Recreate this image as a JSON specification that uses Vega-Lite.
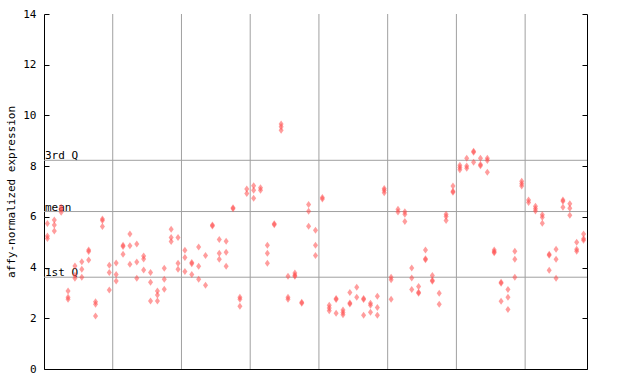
{
  "$schema": "https://vega.github.io/schema/vega-lite/v6.json",
  "width": 543,
  "height": 355,
  "autosize": "none",
  "padding": {"left": 44, "top": 14, "right": 53, "bottom": 15},
  "background": "white",
  "config": {"view": {"stroke": null}, "font": "DejaVu Sans Mono"},
  "datasets": {
    "groups": [{"b": 9.5}, {"b": 19.5}, {"b": 29.5}, {"b": 39.5}, {"b": 49.5}, {"b": 59.5}, {"b": 69.5}],
    "quart": [{"q": "3rd Q", "v": 8.23}, {"q": "mean", "v": 6.21}, {"q": "1st Q", "v": 3.62}],
    "pts": [
      {"i":0,"v":5.74},{"i":0,"v":5.25},{"i":0,"v":5.15},
      {"i":1,"v":5.88},{"i":1,"v":5.68},{"i":1,"v":5.44},
      {"i":2,"v":6.38},{"i":2,"v":6.30},{"i":2,"v":6.18},
      {"i":3,"v":3.08},{"i":3,"v":2.83},{"i":3,"v":2.75},
      {"i":4,"v":4.06},{"i":4,"v":3.70},{"i":4,"v":3.58},
      {"i":5,"v":4.23},{"i":5,"v":3.93},{"i":5,"v":3.62},
      {"i":6,"v":4.69},{"i":6,"v":4.63},{"i":6,"v":4.30},
      {"i":7,"v":2.65},{"i":7,"v":2.55},{"i":7,"v":2.09},
      {"i":8,"v":5.92},{"i":8,"v":5.86},{"i":8,"v":5.62},
      {"i":9,"v":4.09},{"i":9,"v":3.81},{"i":9,"v":3.12},
      {"i":10,"v":4.18},{"i":10,"v":3.73},{"i":10,"v":3.47},
      {"i":11,"v":4.88},{"i":11,"v":4.83},{"i":11,"v":4.53},
      {"i":12,"v":5.32},{"i":12,"v":4.86},{"i":12,"v":4.13},
      {"i":13,"v":4.93},{"i":13,"v":4.22},{"i":13,"v":3.58},
      {"i":14,"v":4.46},{"i":14,"v":4.34},{"i":14,"v":3.90},
      {"i":15,"v":3.81},{"i":15,"v":3.42},{"i":15,"v":2.68},
      {"i":16,"v":3.08},{"i":16,"v":2.92},{"i":16,"v":2.68},
      {"i":17,"v":3.97},{"i":17,"v":3.54},{"i":17,"v":3.15},
      {"i":18,"v":5.51},{"i":18,"v":5.19},{"i":18,"v":5.03},
      {"i":19,"v":5.19},{"i":19,"v":4.17},{"i":19,"v":3.93},
      {"i":20,"v":4.68},{"i":20,"v":4.40},{"i":20,"v":3.85},
      {"i":21,"v":4.20},{"i":21,"v":4.15},{"i":21,"v":3.73},
      {"i":22,"v":4.81},{"i":22,"v":4.05},{"i":22,"v":3.54},
      {"i":23,"v":4.48},{"i":23,"v":3.30},
      {"i":24,"v":5.68},{"i":24,"v":5.64},
      {"i":25,"v":5.11},{"i":25,"v":4.56},{"i":25,"v":4.33},
      {"i":26,"v":5.04},{"i":26,"v":4.60},{"i":26,"v":4.05},
      {"i":27,"v":6.36},{"i":27,"v":6.32},
      {"i":28,"v":2.83},{"i":28,"v":2.75},{"i":28,"v":2.47},
      {"i":29,"v":7.10},{"i":29,"v":6.92},
      {"i":30,"v":7.23},{"i":30,"v":7.05},{"i":30,"v":6.73},
      {"i":31,"v":7.15},{"i":31,"v":7.05},
      {"i":32,"v":4.88},{"i":32,"v":4.56},{"i":32,"v":4.17},
      {"i":33,"v":5.73},{"i":33,"v":5.69},
      {"i":34,"v":9.66},{"i":34,"v":9.55},{"i":34,"v":9.42},
      {"i":35,"v":3.66},{"i":35,"v":2.83},{"i":35,"v":2.75},
      {"i":36,"v":3.79},{"i":36,"v":3.70},{"i":36,"v":3.66},
      {"i":37,"v":2.63},{"i":37,"v":2.59},
      {"i":38,"v":6.49},{"i":38,"v":6.22},{"i":38,"v":5.63},
      {"i":39,"v":5.47},{"i":39,"v":4.88},{"i":39,"v":4.48},
      {"i":40,"v":6.76},{"i":40,"v":6.70},
      {"i":41,"v":2.51},{"i":41,"v":2.41},{"i":41,"v":2.30},
      {"i":42,"v":2.78},{"i":42,"v":2.74},{"i":42,"v":2.20},
      {"i":43,"v":2.33},{"i":43,"v":2.23},{"i":43,"v":2.14},
      {"i":44,"v":3.02},{"i":44,"v":2.60},{"i":44,"v":2.56},
      {"i":45,"v":3.22},{"i":45,"v":2.83},
      {"i":46,"v":2.78},{"i":46,"v":2.74},{"i":46,"v":2.12},
      {"i":47,"v":2.59},{"i":47,"v":2.51},{"i":47,"v":2.24},
      {"i":48,"v":2.87},{"i":48,"v":2.43},{"i":48,"v":2.12},
      {"i":49,"v":7.12},{"i":49,"v":7.05},{"i":49,"v":6.95},
      {"i":50,"v":3.62},{"i":50,"v":3.52},{"i":50,"v":2.75},
      {"i":51,"v":6.30},{"i":51,"v":6.19},
      {"i":52,"v":6.20},{"i":52,"v":6.10},{"i":52,"v":5.82},
      {"i":53,"v":3.98},{"i":53,"v":3.59},{"i":53,"v":3.14},
      {"i":54,"v":3.25},{"i":54,"v":3.03},{"i":54,"v":2.99},
      {"i":55,"v":4.69},{"i":55,"v":4.35},{"i":55,"v":4.31},
      {"i":56,"v":3.69},{"i":56,"v":3.50},{"i":56,"v":3.46},
      {"i":57,"v":2.99},{"i":57,"v":2.55},
      {"i":58,"v":6.10},{"i":58,"v":6.01},{"i":58,"v":5.86},
      {"i":59,"v":7.22},{"i":59,"v":7.01},{"i":59,"v":6.97},
      {"i":60,"v":8.04},{"i":60,"v":7.95},{"i":60,"v":7.86},
      {"i":61,"v":8.31},{"i":61,"v":8.01},{"i":61,"v":7.92},
      {"i":62,"v":8.59},{"i":62,"v":8.55},{"i":62,"v":8.15},
      {"i":63,"v":8.31},{"i":63,"v":8.06},{"i":63,"v":8.02},
      {"i":64,"v":8.31},{"i":64,"v":8.22},{"i":64,"v":7.76},
      {"i":65,"v":4.69},{"i":65,"v":4.62},{"i":65,"v":4.58},
      {"i":66,"v":3.42},{"i":66,"v":3.38},{"i":66,"v":2.67},
      {"i":67,"v":3.14},{"i":67,"v":2.83},{"i":67,"v":2.35},
      {"i":68,"v":4.64},{"i":68,"v":4.33},{"i":68,"v":3.62},
      {"i":69,"v":7.40},{"i":69,"v":7.31},{"i":69,"v":7.22},
      {"i":70,"v":6.66},{"i":70,"v":6.57},
      {"i":71,"v":6.42},{"i":71,"v":6.32},{"i":71,"v":6.23},
      {"i":72,"v":6.08},{"i":72,"v":5.98},{"i":72,"v":5.75},
      {"i":73,"v":4.53},{"i":73,"v":4.49},{"i":73,"v":3.89},
      {"i":74,"v":4.72},{"i":74,"v":4.33},{"i":74,"v":3.58},
      {"i":75,"v":6.66},{"i":75,"v":6.62},{"i":75,"v":6.38},
      {"i":76,"v":6.52},{"i":76,"v":6.34},{"i":76,"v":6.06},
      {"i":77,"v":5.00},{"i":77,"v":4.72},{"i":77,"v":4.64},
      {"i":78,"v":5.32},{"i":78,"v":5.14},{"i":78,"v":5.08}
    ]
  },
  "layer": [
    {
      "data": {"name": "groups"},
      "mark": {"type": "rule", "color": "#a0a0a0", "strokeWidth": 1},
      "encoding": {
        "x": {"field": "b", "type": "quantitative",
          "scale": {"domain": [-0.5, 78.5], "nice": false, "zero": false},
          "axis": {"title": null, "labels": false, "ticks": false, "grid": false, "domainColor": "#000000", "domainWidth": 1}}
      }
    },
    {
      "data": {"name": "quart"},
      "mark": {"type": "rule", "color": "#a0a0a0", "strokeWidth": 1},
      "encoding": {
        "y": {"field": "v", "type": "quantitative",
          "scale": {"domain": [0, 14], "nice": false, "zero": true},
          "axis": {"orient": "left", "title": "affy-normalized expression", "titleFont": "DejaVu Sans Mono", "titleFontSize": 11, "titleFontWeight": "normal", "titleColor": "#000000", "titlePadding": 6,
            "values": [0, 2, 4, 6, 8, 10, 12, 14], "tickSize": -5, "tickColor": "#000000", "domainColor": "#000000", "labelColor": "#000000", "labelFont": "DejaVu Sans Mono", "labelFontSize": 11, "labelPadding": 13, "grid": false}}
      }
    },
    {
      "data": {"name": "quart"},
      "mark": {"type": "text", "align": "left", "baseline": "alphabetic", "dx": 1, "dy": -1, "fontSize": 11, "font": "DejaVu Sans Mono", "color": "#000000"},
      "encoding": {
        "x": {"datum": -0.5, "type": "quantitative"},
        "y": {"field": "v", "type": "quantitative", "axis": null},
        "text": {"field": "q"}
      }
    },
    {
      "data": {"name": "pts"},
      "mark": {"type": "point", "shape": "M0,-1L0.72,0L0,1L-0.72,0Z", "filled": true, "size": 49, "color": "#ff4d4d", "opacity": 0.55, "strokeWidth": 0},
      "encoding": {
        "x": {"field": "i", "type": "quantitative"},
        "y": {"field": "v", "type": "quantitative",
          "axis": {"orient": "right", "title": null, "labels": false, "values": [0, 2, 4, 6, 8, 10, 12, 14], "tickSize": -5, "tickColor": "#000000", "domainColor": "#000000", "grid": false}}
      }
    }
  ],
  "resolve": {"axis": {"y": "independent"}}
}
